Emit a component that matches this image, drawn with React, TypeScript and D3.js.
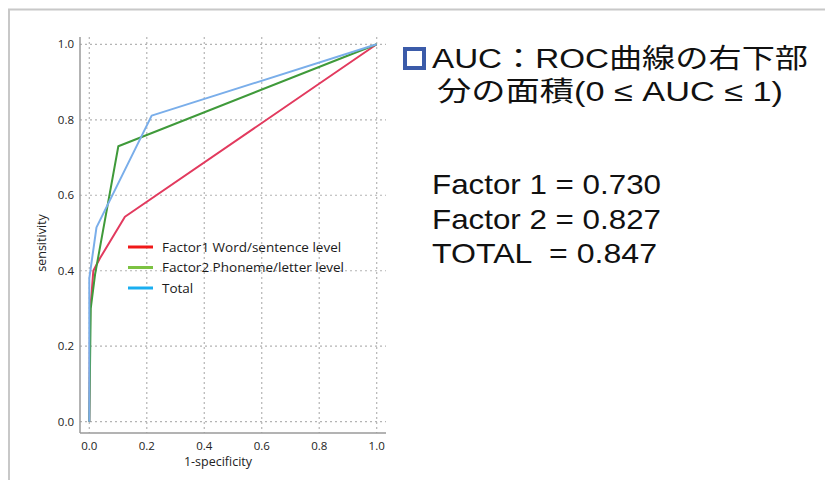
import { scaleLinear, line } from 'd3'

// ROC points: [1-specificity, sensitivity]
const factor1: [number, number][] = [[0, 0], [0.003, 0.3], [0.008, 0.34], [0.014, 0.4], [0.037, 0.433], [0.124, 0.543], [1, 1]]
const factor2: [number, number][] = [[0, 0], [0.005, 0.3], [0.02, 0.39], [0.101, 0.73], [1, 1]]
const total: [number, number][] = [[0, 0], [0, 0.38], [0.025, 0.515], [0.217, 0.811], [1, 1]]

const ticks = [0, 0.2, 0.4, 0.6, 0.8, 1.0]
const legendLabels = ['Factor1 Word/sentence level', 'Factor2 Phoneme/letter level', 'Total']
const aucLabels = ['Factor 1 = 0.730', 'Factor 2 = 0.827', 'TOTAL  = 0.847']
const titleLines = ['AUC：ROC曲線の右下部', '分の面積(0 ≤ AUC ≤ 1)']

const series = [
  { name: 'factor1', data: factor1, stroke: '#e23a5e', legend: '#f01818' },
  { name: 'factor2', data: factor2, stroke: '#3f9a3a', legend: '#7cc242' },
  { name: 'total', data: total, stroke: '#7aaeea', legend: '#1aaef0' },
]

export default function App() {
  const W = 825
  const H = 480
  const x = scaleLinear().domain([0, 1]).range([89.3, 376.7])
  const y = scaleLinear().domain([0, 1]).range([421.7, 44.3])
  const path = line<[number, number]>().x(d => x(d[0])).y(d => y(d[1]))
  const axisLeft = 80
  const axisBottom = 433
  const chartFont = '"Open Sans", "Liberation Sans", sans-serif'
  const rightFont = '"Liberation Sans", "Noto Sans CJK JP", sans-serif'

  return (
    <svg width={W} height={H} style={{ position: 'fixed', left: 0, top: 0, background: '#fff' }}>
      {/* frame */}
      <rect x={9} y={9.5} width={850} height={500} fill="none" stroke="#c8c8c8" strokeWidth={2} />

      {/* grid */}
      <g stroke="#b4b4b4" strokeWidth={1.2} strokeDasharray="2 3">
        {ticks.map(t => (
          <line key={'v' + t} x1={x(t)} x2={x(t)} y1={37} y2={axisBottom} />
        ))}
        {ticks.map(t => (
          <line key={'h' + t} x1={axisLeft} x2={386} y1={y(t)} y2={y(t)} />
        ))}
      </g>

      {/* axes */}
      <g stroke="#9a9a9a" strokeWidth={1.5}>
        <line x1={axisLeft} x2={axisLeft} y1={37} y2={axisBottom} />
        <line x1={axisLeft} x2={386} y1={axisBottom} y2={axisBottom} />
      </g>
      <g fontFamily={chartFont} fontSize={11.5} fill="#222">
        {ticks.map(t => (
          <text key={'yl' + t} x={74} y={y(t)} dy="0.35em" textAnchor="end">{t.toFixed(1)}</text>
        ))}
        {ticks.map(t => (
          <text key={'xl' + t} x={x(t)} y={450} textAnchor="middle">{t.toFixed(1)}</text>
        ))}
        <text x={218} y={466} textAnchor="middle" fontSize={12.5}>1-specificity</text>
        <text transform="translate(46,243) rotate(-90)" textAnchor="middle" fontSize={12.5}>sensitivity</text>
      </g>

      {/* curves */}
      <g fill="none" strokeWidth={2} strokeLinejoin="round">
        {series.map(s => (
          <path key={s.name} d={path(s.data) ?? ''} stroke={s.stroke} />
        ))}
      </g>

      {/* legend */}
      <g fontFamily={chartFont} fontSize={13.5} fill="#1a1a1a">
        {series.map((s, i) => (
          <g key={s.name} transform={`translate(128,${247 + i * 20.5})`}>
            <line x1={0} x2={25} y1={0} y2={0} stroke={s.legend} strokeWidth={3} />
            <text x={34} y={0} dy="0.35em">{legendLabels[i]}</text>
          </g>
        ))}
      </g>

      {/* annotation */}
      <rect x={405} y={49} width={19} height={19} fill="#fff" stroke="#3b5ba9" strokeWidth={4} />
      <g fontFamily={rightFont} fontSize={27} fill="#111">
        <text x={432} y={68} textLength={376} lengthAdjust="spacingAndGlyphs">{titleLines[0]}</text>
        <text x={437} y={101} textLength={346} lengthAdjust="spacingAndGlyphs">{titleLines[1]}</text>
        {aucLabels.map((a, i) => (
          <text key={a} x={432} y={194 + i * 34.5} xmlSpace="preserve" fontSize={28}
            textLength={i === 2 ? 225 : 229} lengthAdjust="spacingAndGlyphs">{a}</text>
        ))}
      </g>
    </svg>
  )
}
